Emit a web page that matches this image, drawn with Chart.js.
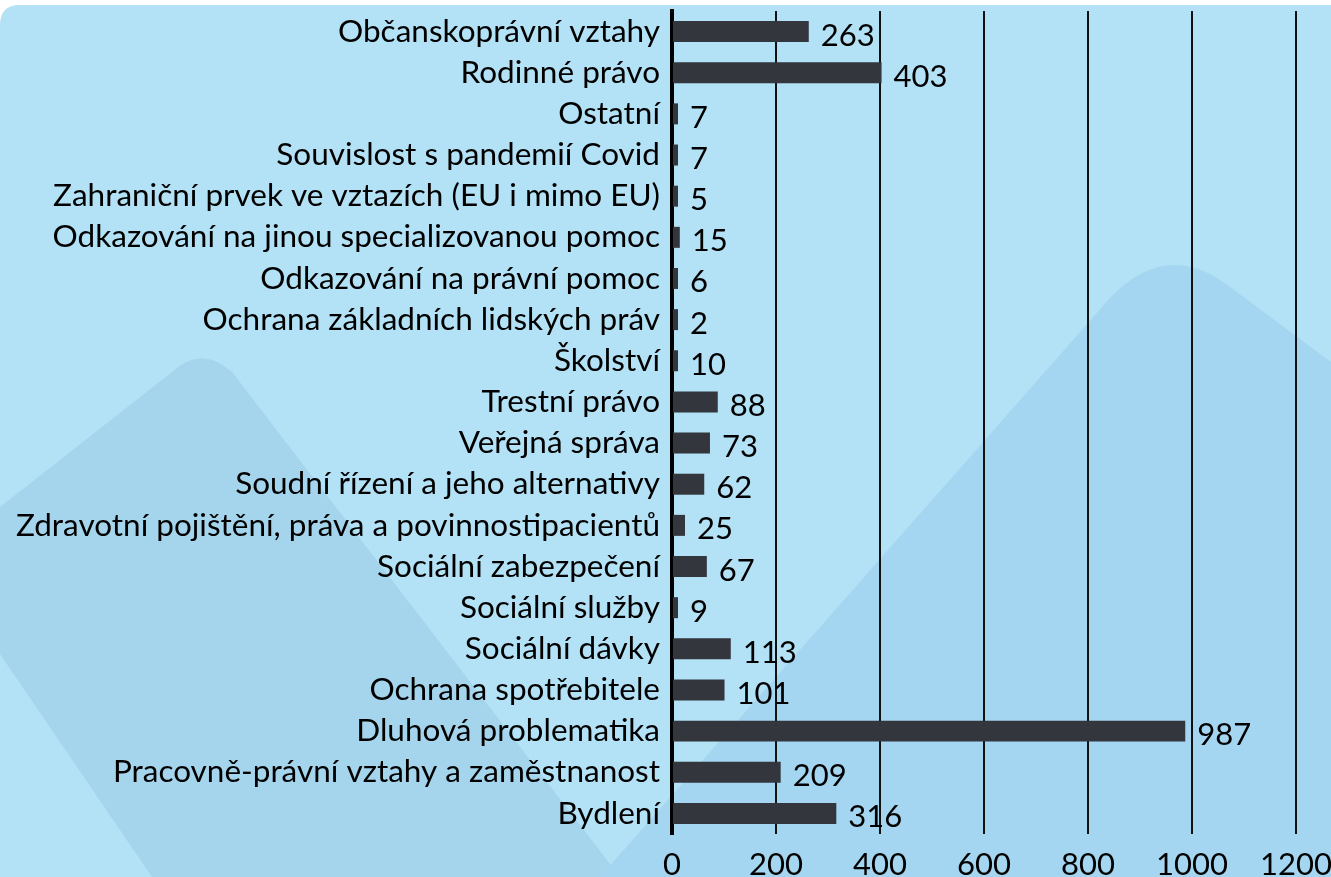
<!DOCTYPE html>
<html>
<head>
<meta charset="utf-8">
<script src="https://cdn.jsdelivr.net/npm/chart.js@4.4.1/dist/chart.umd.min.js"></script>
<style>
  html, body { margin: 0; padding: 0; background: #ffffff; }
  #wrap { position: relative; width: 1331px; height: 877px; overflow: hidden; }
  #bg { position: absolute; left: 0; top: 0; width: 1331px; height: 877px; }
  #c { position: absolute; left: 0; top: 0; }
</style>
</head>
<body>
<div id="wrap">
  <svg id="bg" width="1331" height="877" xmlns="http://www.w3.org/2000/svg">
    <path d="M0 25 Q0 5 20 5 L1331 5 L1331 877 L0 877 Z" fill="#b3e1f5"/>
    <path d="M0 507 L172 372 Q201 345 232 372 L620 877 L152 877 L0 654 Z" fill="#a5d5ec"/>
    <path d="M600 877 L1110 298 Q1165 240 1226 284 L1331 362 L1331 877 Z" fill="#a4d6f1"/>
  </svg>
  <canvas id="c" width="1331" height="877"></canvas>
</div>
<script>
const categories = [
  "Občanskoprávní vztahy",
  "Rodinné právo",
  "Ostatní",
  "Souvislost s pandemií Covid",
  "Zahraniční prvek ve vztazích (EU i mimo EU)",
  "Odkazování na jinou specializovanou pomoc",
  "Odkazování na právní pomoc",
  "Ochrana základních lidských práv",
  "Školství",
  "Trestní právo",
  "Veřejná správa",
  "Soudní řízení a jeho alternativy",
  "Zdravotní pojištění, práva a povinnostipacientů",
  "Sociální zabezpečení",
  "Sociální služby",
  "Sociální dávky",
  "Ochrana spotřebitele",
  "Dluhová problematika",
  "Pracovně-právní vztahy a zaměstnanost",
  "Bydlení"
];
const values = [263, 403, 7, 7, 5, 15, 6, 2, 10, 88, 73, 62, 25, 67, 9, 113, 101, 987, 209, 316];
const xTicks = [0, 200, 400, 600, 800, 1000, 1200];

const FONT = "Lato, 'Open Sans', sans-serif";

const valueLabels = {
  id: 'valueLabels',
  afterDatasetsDraw(chart) {
    const ctx = chart.ctx;
    const meta = chart.getDatasetMeta(0);
    ctx.save();
    ctx.font = "31px " + FONT;
    ctx.fillStyle = "#000";
    ctx.textAlign = "left";
    ctx.textBaseline = "middle";
    meta.data.forEach((bar, i) => {
      ctx.fillText(String(chart.data.datasets[0].data[i]), bar.x + 12, bar.y + 4);
    });
    ctx.restore();
  }
};

new Chart(document.getElementById('c'), {
  type: 'bar',
  data: {
    labels: categories,
    datasets: [{
      data: values,
      backgroundColor: '#33363d',
      borderWidth: 0,
      barPercentage: 0.51,
      categoryPercentage: 1.0,
      minBarLength: 6
    }]
  },
  options: {
    indexAxis: 'y',
    responsive: false,
    animation: false,
    devicePixelRatio: 1,
    layout: { padding: { top: 11, right: 0, left: 0, bottom: 0 } },
    plugins: { legend: { display: false }, tooltip: { enabled: false } },
    scales: {
      x: {
        min: 0, max: 1200,
        afterBuildTicks(scale) { scale.ticks = xTicks.map(v => ({ value: v })); },
        afterFit(scale) { scale.height = 43; scale.paddingRight = 35; scale.paddingLeft = 0; },
        grid: { color: '#111', lineWidth: 2, drawTicks: false },
        border: { display: false },
        ticks: {
          color: '#000', font: { family: FONT, size: 31 }, padding: 12, maxRotation: 0,
          callback: (v) => String(v)
        }
      },
      y: {
        afterFit(scale) { scale.width = 672; scale.paddingTop = 0; scale.paddingBottom = 0; },
        grid: { display: false, drawTicks: false },
        border: { display: true, color: '#000', width: 4 },
        ticks: { color: '#000', font: { family: FONT, size: 31.5, lineHeight: 1.0 }, padding: 12, autoSkip: false }
      }
    }
  },
  plugins: [valueLabels]
});
</script>
</body>
</html>
